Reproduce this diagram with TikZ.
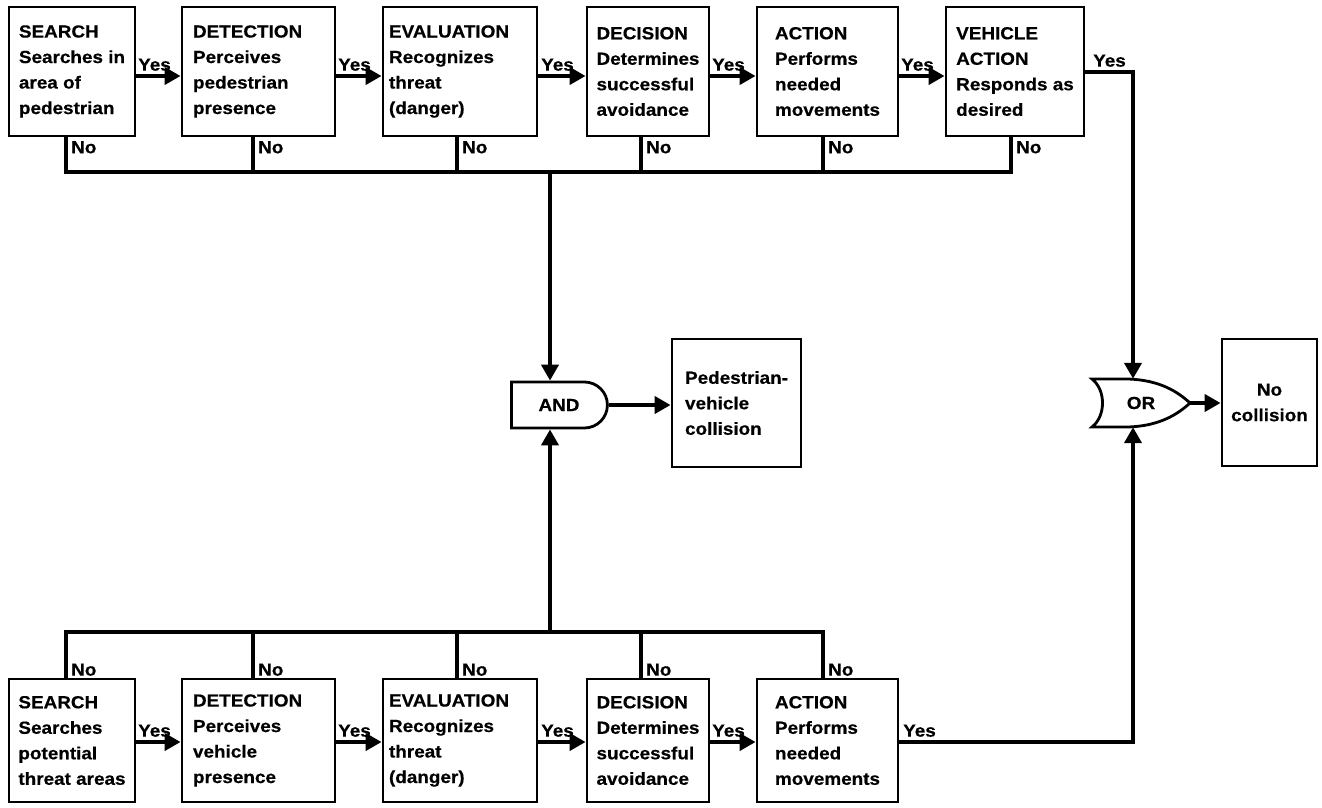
\documentclass[tikz,border=0pt]{standalone}
\usepackage{fontspec}
\setmainfont{Liberation Sans}[FakeStretch=1.08,FakeBold=0.5]
\usetikzlibrary{arrows.meta,shapes.misc}
\begin{document}
\begin{tikzpicture}[x=1pt,y=-1pt,
  every node/.style={font=\fontsize{17.5}{25.5}\selectfont\bfseries},
  stage/.style={draw,line width=2.8pt,align=left,inner sep=0pt},
  conn/.style={line width=4.8pt},
  arr/.style={conn,-{Triangle[length=16pt,width=17pt]}},
  lbl/.style={inner sep=1pt},
]
\useasboundingbox (0,0) rectangle (1322,808);
% top row
\node[stage,minimum width=126pt,minimum height=129pt] (t1) at (72,71.5) {SEARCH\\Searches in\\area of\\pedestrian};
\node[stage,minimum width=153pt,minimum height=129pt,text width=131pt] (t2) at (258.5,71.5) {DETECTION\\Perceives\\pedestrian\\presence};
\node[stage,minimum width=154pt,minimum height=129pt,text width=142pt] (t3) at (460,71.5) {EVALUATION\\Recognizes\\threat\\(danger)};
\node[stage,minimum width=122pt,minimum height=129pt] (t4) at (648,71.5) {DECISION\\Determines\\successful\\avoidance};
\node[stage,minimum width=141pt,minimum height=129pt] (t5) at (827.5,71.5) {ACTION\\Performs\\needed\\movements};
\node[stage,minimum width=138pt,minimum height=129pt] (t6) at (1015,71.5) {VEHICLE\\ACTION\\Responds as\\desired};
% bottom row
\node[stage,minimum width=126pt,minimum height=123pt] (b1) at (72,740.5) {SEARCH\\Searches\\potential\\threat areas};
\node[stage,minimum width=153pt,minimum height=123pt,text width=131pt] (b2) at (258.5,740.5) {DETECTION\\Perceives\\vehicle\\presence};
\node[stage,minimum width=154pt,minimum height=123pt,text width=142pt] (b3) at (460,740.5) {EVALUATION\\Recognizes\\threat\\(danger)};
\node[stage,minimum width=122pt,minimum height=123pt] (b4) at (648,740.5) {DECISION\\Determines\\successful\\avoidance};
\node[stage,minimum width=141pt,minimum height=123pt] (b5) at (827.5,740.5) {ACTION\\Performs\\needed\\movements};
% gates and results
\node[draw,line width=2.8pt,rounded rectangle,rounded rectangle west arc=none,minimum width=96pt,minimum height=46pt,inner sep=0pt] (and) at (559,405) {AND\hspace{18pt}};
\node[stage,minimum width=129pt,minimum height=128pt] (ped) at (736.5,403) {Pedestrian-\\vehicle\\collision};
\node[inner sep=0pt,minimum width=98pt,minimum height=48pt] (or) at (1141,403) {OR\hspace{12pt}};
\draw[line width=2.8pt] (1092,379) -- (1128,379) .. controls (1160,380) and (1178,392) .. (1190,403)
  .. controls (1178,414) and (1160,426) .. (1128,427) -- (1092,427)
  .. controls (1106,416) and (1106,390) .. (1092,379) -- cycle;
\node[stage,align=center,minimum width=95pt,minimum height=127pt] (nc) at (1269.5,402.5) {No\\collision};
% bus coordinates
\coordinate (tb1) at (66,172);
\coordinate (tb2) at (253,172);
\coordinate (tb3) at (457,172);
\coordinate (tb4) at (641,172);
\coordinate (tb5) at (823,172);
\coordinate (tb6) at (1011,172);
\coordinate (tbj) at (550,172);
\coordinate (bb1) at (66,632);
\coordinate (bb2) at (253,632);
\coordinate (bb3) at (457,632);
\coordinate (bb4) at (641,632);
\coordinate (bb5) at (823,632);
\coordinate (bbj) at (550,632);
% top yes arrows
\draw[arr] ([yshift=-4.5pt]t1.east) -- ([yshift=-4.5pt]t2.west);
\draw[arr] ([yshift=-4.5pt]t2.east) -- ([yshift=-4.5pt]t3.west);
\draw[arr] ([yshift=-4.5pt]t3.east) -- ([yshift=-4.5pt]t4.west);
\draw[arr] ([yshift=-4.5pt]t4.east) -- ([yshift=-4.5pt]t5.west);
\draw[arr] ([yshift=-4.5pt]t5.east) -- ([yshift=-4.5pt]t6.west);
\draw[arr] ([yshift=-0.5pt]t6.east) -| ([xshift=-8pt]or.north);
% bottom yes arrows
\draw[arr] ([yshift=-1.5pt]b1.east) -- ([yshift=-1.5pt]b2.west);
\draw[arr] ([yshift=-1.5pt]b2.east) -- ([yshift=-1.5pt]b3.west);
\draw[arr] ([yshift=-1.5pt]b3.east) -- ([yshift=-1.5pt]b4.west);
\draw[arr] ([yshift=-1.5pt]b4.east) -- ([yshift=-1.5pt]b5.west);
\draw[arr] ([yshift=-1.5pt]b5.east) -| ([xshift=-8pt]or.south);
% top no bus
\draw[conn] (t1.south -| tb1) -- (tb1) -- (tb6) -- (t6.south -| tb6);
\draw[conn] (t2.south -| tb2) -- (tb2);
\draw[conn] (t3.south -| tb3) -- (tb3);
\draw[conn] (t4.south -| tb4) -- (tb4);
\draw[conn] (t5.south -| tb5) -- (tb5);
\draw[arr] (tbj) -- (tbj |- and.north);
% bottom no bus
\draw[conn] (b1.north -| bb1) -- (bb1) -- (bb5) -- (b5.north -| bb5);
\draw[conn] (b2.north -| bb2) -- (bb2);
\draw[conn] (b3.north -| bb3) -- (bb3);
\draw[conn] (b4.north -| bb4) -- (bb4);
\draw[arr] (bbj) -- (bbj |- and.south);
% outputs
\draw[arr] (and.east) -- (and.east -| ped.west);
\draw[arr] (or.east) -- (or.east -| nc.west);
% labels
\node[lbl,anchor=south west] (ty1) at (137,72) {Yes};
\node[lbl,anchor=south west] (ty2) at (337,72) {Yes};
\node[lbl,anchor=south west] (ty3) at (540,72) {Yes};
\node[lbl,anchor=south west] (ty4) at (711,72) {Yes};
\node[lbl,anchor=south west] (ty5) at (900,72) {Yes};
\node[lbl,anchor=south west] (ty6) at (1092,68) {Yes};
\node[lbl,anchor=south west] (by1) at (137,738) {Yes};
\node[lbl,anchor=south west] (by2) at (337,738) {Yes};
\node[lbl,anchor=south west] (by3) at (540,738) {Yes};
\node[lbl,anchor=south west] (by4) at (711,738) {Yes};
\node[lbl,anchor=south west] (by5) at (902,738) {Yes};
\node[lbl,anchor=north west] (tn1) at (70,140) {No};
\node[lbl,anchor=north west] (tn2) at (257,140) {No};
\node[lbl,anchor=north west] (tn3) at (461,140) {No};
\node[lbl,anchor=north west] (tn4) at (645,140) {No};
\node[lbl,anchor=north west] (tn5) at (827,140) {No};
\node[lbl,anchor=north west] (tn6) at (1015,140) {No};
\node[lbl,anchor=south west] (bn1) at (70,677) {No};
\node[lbl,anchor=south west] (bn2) at (257,677) {No};
\node[lbl,anchor=south west] (bn3) at (461,677) {No};
\node[lbl,anchor=south west] (bn4) at (645,677) {No};
\node[lbl,anchor=south west] (bn5) at (827,677) {No};
\end{tikzpicture}
\end{document}
